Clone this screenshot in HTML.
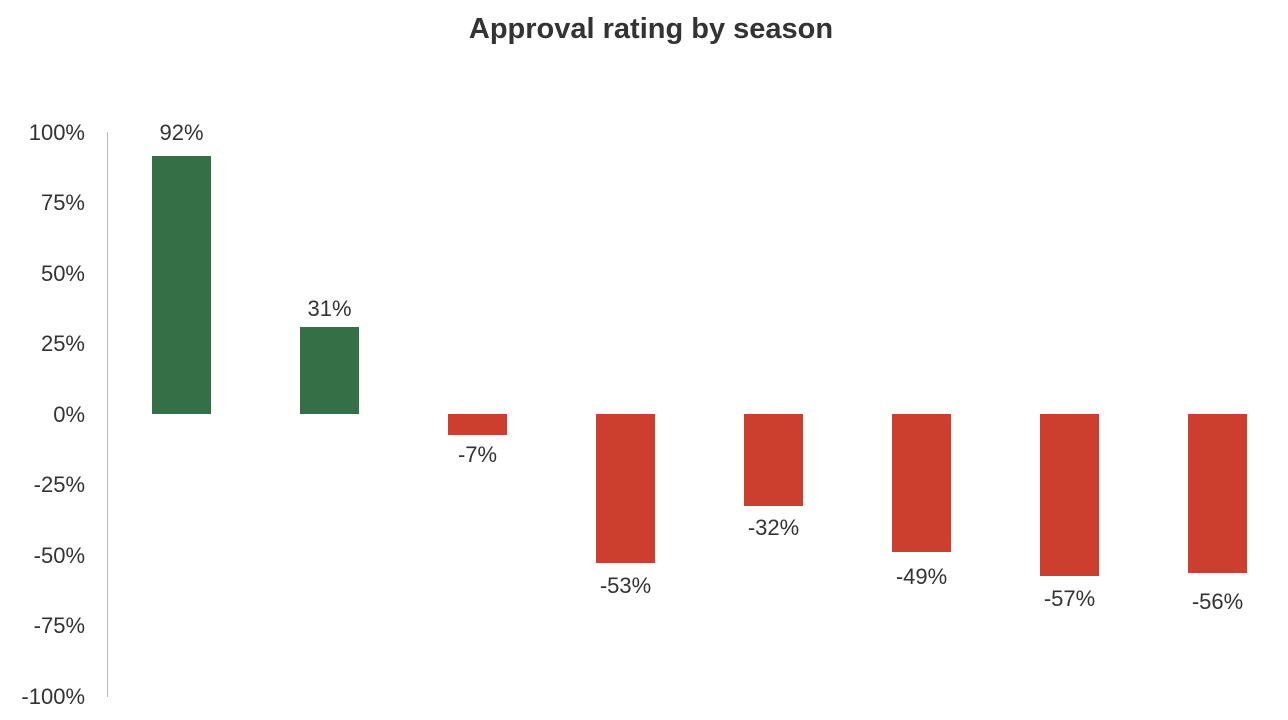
<!DOCTYPE html>
<html><head><meta charset="utf-8"><style>
body{margin:0;background:#fff}
svg text{font-family:"Liberation Sans",sans-serif;fill:#333}
</style></head><body>
<svg width="1288" height="715" viewBox="0 0 1288 715">
<text x="651" y="38" text-anchor="middle" font-size="29" font-weight="bold">Approval rating by season</text>
<line x1="107.5" y1="132" x2="107.5" y2="697" stroke="#bbb" stroke-width="1"/>
<g font-size="22" text-anchor="end">
<text x="85" y="140">100%</text>
<text x="85" y="210">75%</text>
<text x="85" y="281">50%</text>
<text x="85" y="351">25%</text>
<text x="85" y="422">0%</text>
<text x="85" y="492">-25%</text>
<text x="85" y="563">-50%</text>
<text x="85" y="633">-75%</text>
<text x="85" y="704">-100%</text>
</g>
<g fill="#346f45">
<rect x="152" y="156" width="59" height="258"/>
<rect x="300" y="327" width="59" height="87"/>
</g>
<g fill="#cc3f2f">
<rect x="448" y="414" width="59" height="21"/>
<rect x="596" y="414" width="59" height="149"/>
<rect x="744" y="414" width="59" height="92"/>
<rect x="892" y="414" width="59" height="138"/>
<rect x="1040" y="414" width="59" height="162"/>
<rect x="1188" y="414" width="59" height="159"/>
</g>
<g font-size="22" text-anchor="middle">
<text x="181.5" y="140">92%</text>
<text x="329.5" y="316">31%</text>
<text x="477.5" y="462">-7%</text>
<text x="625.5" y="593">-53%</text>
<text x="773.5" y="535">-32%</text>
<text x="921.5" y="584">-49%</text>
<text x="1069.5" y="606">-57%</text>
<text x="1217.5" y="609">-56%</text>
</g>
</svg>
</body></html>
